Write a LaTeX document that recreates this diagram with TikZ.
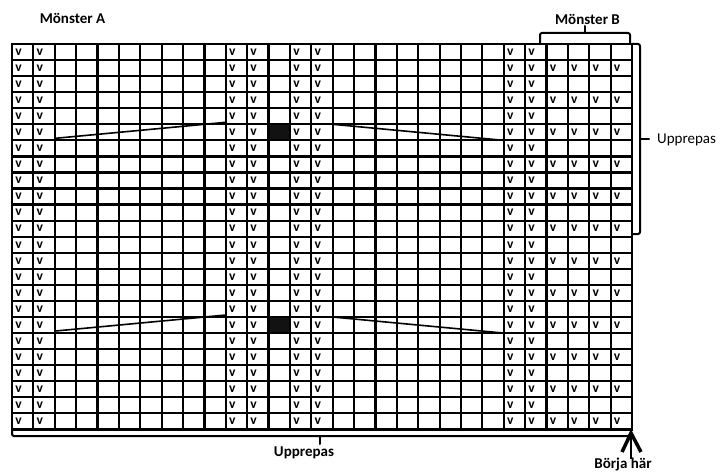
\documentclass[tikz,border=0pt]{standalone}
\usepackage{fontspec}
\setmainfont{Carlito}
\begin{document}
\begin{tikzpicture}[x=1pt,y=-1pt,
  gridline/.style={line width=2.2pt,black},
  vmark/.style={font=\fontsize{13.5}{13.5}\selectfont\bfseries, inner sep=0pt},
  lbl/.style={font=\fontsize{15}{15}\selectfont\bfseries, inner sep=0pt},
  lblr/.style={font=\fontsize{15}{15}\selectfont, inner sep=0pt},
  bracket/.style={line width=2pt, rounded corners=2pt, line cap=round},
  diag/.style={line width=1.6pt},
  blackcell/.style={fill=black!93}]
\useasboundingbox (0,0) rectangle (720,473);
\def\xo{12}\def\yo{44}\def\cw{21.38}\def\rh{16.06}
% black cells
\foreach \r in {6,18} \fill[blackcell] ({\xo+12*\cw},{\yo+(\r-1)*\rh}) rectangle ({\xo+13*\cw},{\yo+\r*\rh});
% grid
\foreach \i in {0,...,29} \draw[gridline] ({\xo+\i*\cw},\yo) -- ({\xo+\i*\cw},{\yo+24*\rh});
\foreach \j in {0,...,24} \draw[gridline] (\xo,{\yo+\j*\rh}) -- ({\xo+29*\cw},{\yo+\j*\rh});
\draw[line width=2.6pt] (\xo,\yo) rectangle ({\xo+29*\cw},{\yo+24*\rh});
% v marks
\foreach \r in {1,...,24} {
  \foreach \c in {1,2,11,12,14,15,24,25}
    \node[vmark] (v\r-\c) at ({\xo+(\c-1)*\cw+6.5},{\yo+(\r-0.5)*\rh}) {v};
}
\foreach \r in {2,4,...,24} {
  \foreach \c in {26,...,29}
    \node[vmark] (v\r-\c) at ({\xo+(\c-1)*\cw+6.5},{\yo+(\r-0.5)*\rh}) {v};
}
% diagonals
\foreach \r in {6,18} {
  \draw[diag] ({\xo+2*\cw},{\yo+\r*\rh-2}) -- ({\xo+10*\cw},{\yo+(\r-1)*\rh-2});
  \draw[diag] ({\xo+15*\cw},{\yo+(\r-1)*\rh}) -- ({\xo+23*\cw},{\yo+\r*\rh});
}
% labels
\node[lbl, anchor=base] (ma) at (72.5,24) {Mönster A};
\node[lbl, anchor=base] (mb) at (587.5,25) {Mönster B};
\node[lblr, anchor=base west] (ur) at (657,144) {Upprepas};
\node[lbl, anchor=base] (ub) at (304,456) {Upprepas};
\node[lbl, anchor=base] (bh) at (623,468) {Börja här};
% brackets
\draw[bracket] (540,43) -- (540,33) -- (630,33) -- (630,43);
\draw[bracket] (585,33) -- (585,26);
\draw[bracket] (632,44) -- (640,44) -- (640,234) -- (632,234);
\draw[bracket] (640,139) -- (649,139);
\draw[bracket] (12,429) -- (12,436) -- (632,436);
\draw[bracket] (320,436) -- (320,444);
% start arrow
\coordinate (as) at (631,459);
\coordinate (at) at (631,431);
\draw[line width=1.3pt] (as) -- (at);
\draw[line width=3.5pt] (622,452) -- (631,433) -- (641,452);
\end{tikzpicture}
\end{document}
